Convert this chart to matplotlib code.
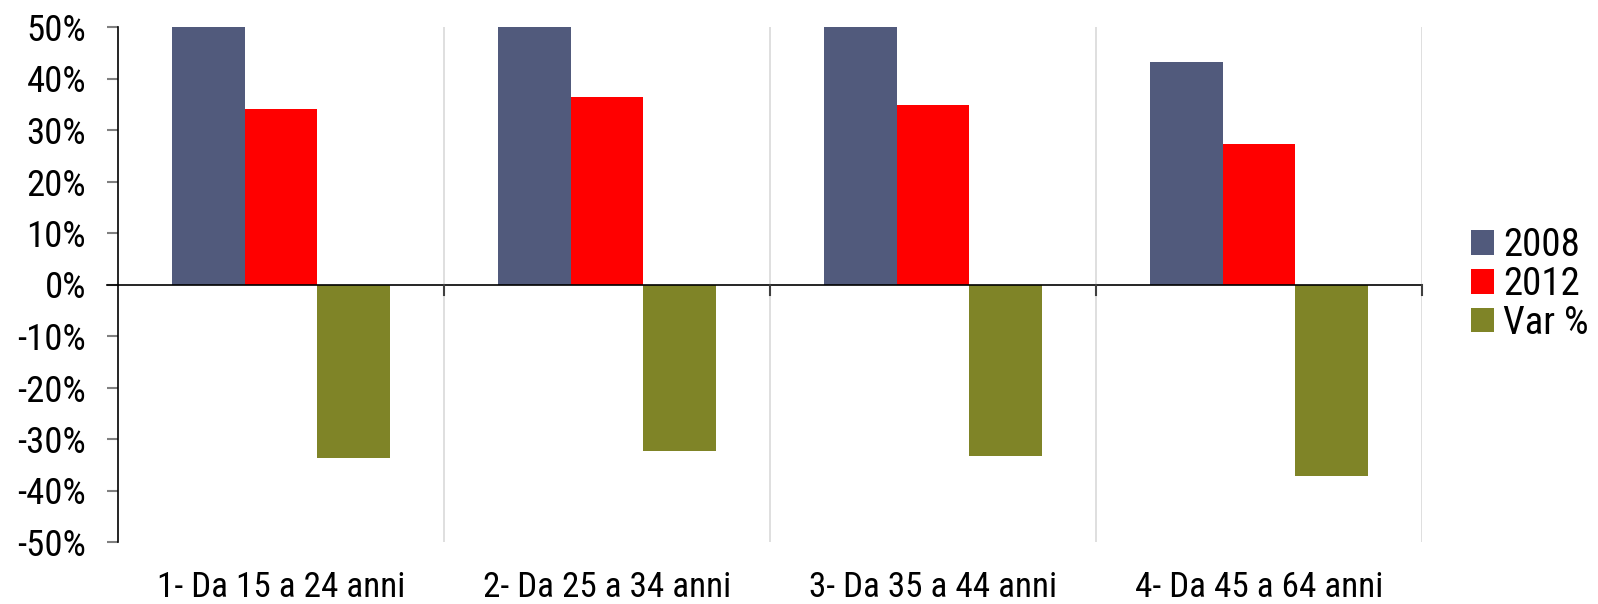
import matplotlib
matplotlib.use("Agg")
import matplotlib.pyplot as plt
from matplotlib.patches import Patch
import numpy as np

categories = ["1- Da 15 a 24 anni", "2- Da 25 a 34 anni", "3- Da 35 a 44 anni", "4- Da 45 a 64 anni"]
series_names = ["2008", "2012", "Var %"]
v2008 = [51.4, 53.9, 52.3, 43.2]
v2012 = [34.1, 36.5, 34.9, 27.2]
var_pct = [-33.7, -32.3, -33.3, -37.1]
yticks = [-50, -40, -30, -20, -10, 0, 10, 20, 30, 40, 50]
colors = ["#515A7C", "#FF0000", "#7F8427"]

fam = ["Roboto Condensed", "Liberation Sans", "DejaVu Sans"]
plt.rcParams['font.family'] = fam
yfs = 26.5
xfs = 25.3
lfs = 28

W, H = 1598, 604
fig = plt.figure(figsize=(W / 100, H / 100), dpi=100)
L, R, T, B = 118, 1422, 27, 542
ax = fig.add_axes([L / W, 1 - B / H, (R - L) / W, (B - T) / H])

x = np.arange(len(categories))
w = 0.222
for i, (vals, c, name) in enumerate(zip([v2008, v2012, var_pct], colors, series_names)):
    ax.bar(x + (i - 1) * w, vals, width=w, color=c, label=name, zorder=3)

ax.set_xlim(-0.5, len(categories) - 0.5)
ax.set_ylim(-50, 50)

bounds = np.arange(len(categories)) + 0.5
for b in bounds:
    ax.axvline(b, color="#d9d9d9", lw=1.2, zorder=1)
ax.axhline(0, color="black", lw=1.2, zorder=4)
ax.plot([-0.5 - 0.0335, -0.5], [0, 0], color="black", lw=1.2, clip_on=False)
for b in bounds:
    ax.plot([b, b], [0, -2.1], color="#404040", lw=1.5, zorder=4, clip_on=False)

for s in ["top", "right", "bottom"]:
    ax.spines[s].set_visible(False)
ax.spines["left"].set_color("black")
ax.spines["left"].set_linewidth(1.2)

ax.set_yticks(yticks)
ax.set_yticklabels([f"{t}%" for t in yticks], fontsize=yfs)
ax.tick_params(axis="y", length=8, width=1.5, color="#808080", pad=15)
ax.set_xticks(x)
ax.set_xticklabels(categories, fontsize=xfs)
ax.tick_params(axis="x", length=0, pad=21)

handles = [Patch(facecolor=c, label=n) for c, n in zip(colors, series_names)]
fig.legend(handles=handles, loc="center left", bbox_to_anchor=(1471 / W, 1 - 284.5 / H), frameon=False,
           fontsize=lfs, handlelength=0.59, handleheight=0.59, handletextpad=0.23,
           labelspacing=0.05, borderaxespad=0, borderpad=0)

fig.savefig("out.png", dpi=100)
